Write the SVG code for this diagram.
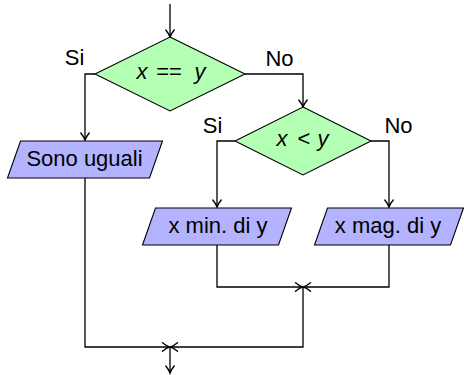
<svg xmlns="http://www.w3.org/2000/svg" width="464" height="375" viewBox="0 0 464 375">
  <style>
    .decision { fill: #b3ffb3; stroke: #000; stroke-width: 1.1; }
    .io { fill: #b3b3ff; stroke: #000; stroke-width: 1.1; }
    .label { font-family: "Liberation Sans", Arial, sans-serif; font-size: 22px; fill: #000; text-anchor: middle; }
    .math { font-style: italic; }
    .flow { fill: none; stroke: #000; stroke-width: 1.3; marker-end: url(#arrow); }
  </style>
  <defs>
    <marker id="arrow" markerUnits="userSpaceOnUse" viewBox="-9 -6 11 12" refX="0" refY="0" markerWidth="11" markerHeight="12" orient="auto">
      <path d="M-7,-4.2 C-4,-1.8 -1.8,-0.5 0,0 C-1.8,0.5 -4,1.8 -7,4.2" fill="none" stroke="#000" stroke-width="1.4" stroke-linecap="round"/>
    </marker>
  </defs>

  <!-- connectors -->
  <g id="connectors">
    <path class="flow" d="M170,4 V37"/>
    <path class="flow" d="M95,74 H85 V140"/>
    <path class="flow" d="M245,74 H303 V107"/>
    <path class="flow" d="M235,141 H217 V207"/>
    <path class="flow" d="M371,141 H389 V207"/>
    <path class="flow" d="M217,245 V287 H302.5"/>
    <path class="flow" d="M389,245 V287 H303.5"/>
    <path class="flow" d="M303,287 V347 H170.5"/>
    <path class="flow" d="M85,178 V347 H169.5"/>
    <path class="flow" d="M170,347 V373"/>
  </g>

  <!-- branch labels -->
  <g id="branch-labels" class="label">
    <text x="74.5" y="65">Si</text>
    <text x="279.5" y="66">No</text>
    <text x="212.5" y="133">Si</text>
    <text x="398.5" y="133">No</text>
  </g>

  <!-- decision: x == y -->
  <g id="test-equal">
    <polygon class="decision" points="170,37 245,74 170,111 95,74"/>
    <text class="label" y="79"><tspan class="math" x="142">x</tspan><tspan x="169">==</tspan><tspan class="math" x="200">y</tspan></text>
  </g>

  <!-- decision: x < y -->
  <g id="test-less">
    <polygon class="decision" points="303,107 371,141 303,175 235,141"/>
    <text class="label" y="146"><tspan class="math" x="282">x</tspan><tspan x="304">&lt;</tspan><tspan class="math" x="323">y</tspan></text>
  </g>

  <!-- output: equal -->
  <g id="out-equal">
    <polygon class="io" points="20.5,141 162.5,141 149.5,178 7.5,178"/>
    <text class="label" x="84.5" y="166">Sono uguali</text>
  </g>

  <!-- output: x smaller -->
  <g id="out-less">
    <polygon class="io" points="155.5,208 291.5,208 278.5,245 142.5,245"/>
    <text class="label" x="218" y="233">x min. di y</text>
  </g>

  <!-- output: x greater -->
  <g id="out-greater">
    <polygon class="io" points="327.5,208 463.5,208 450.5,245 314.5,245"/>
    <text class="label" x="388" y="233">x mag. di y</text>
  </g>
</svg>
